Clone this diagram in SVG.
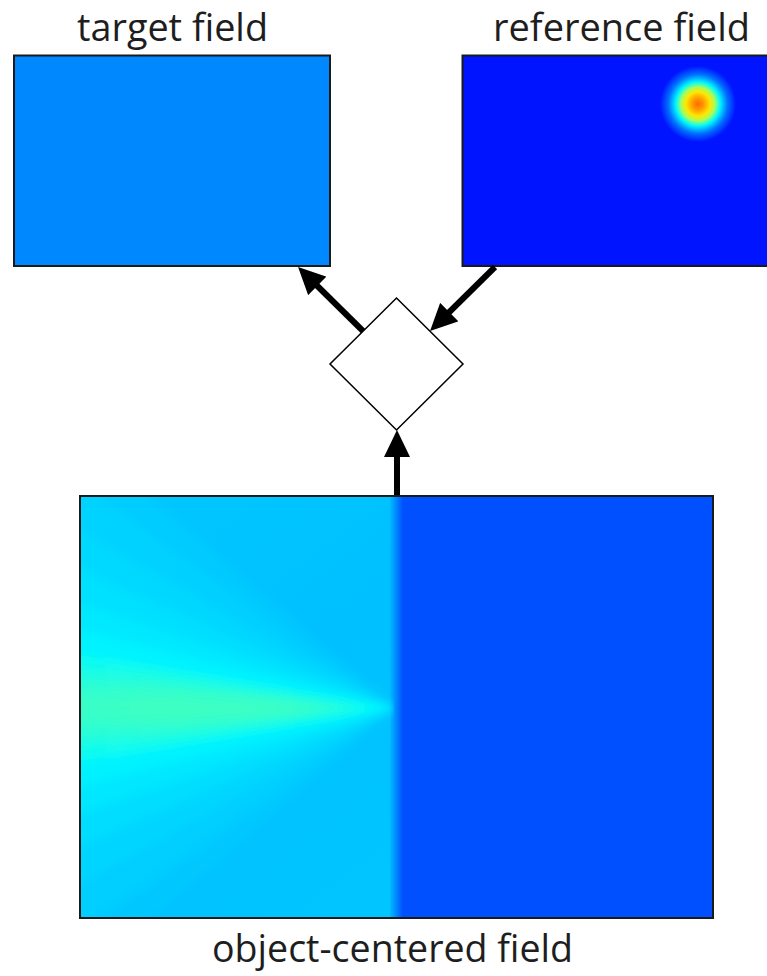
<svg xmlns="http://www.w3.org/2000/svg" width="767" height="976" viewBox="0 0 767 976">
  <style>
    .label { font-family: "Open Sans", "Liberation Sans", sans-serif; font-size: 39px; fill: #1e1e1e; text-anchor: middle; }
    .frame { stroke: #1a1a1a; stroke-width: 2; }
    .conn { stroke: #000; stroke-width: 6; fill: none; marker-end: url(#head); }
    .cy { fill: #00ffff; }
  </style>
  <defs>
    <marker id="head" markerUnits="userSpaceOnUse" viewBox="0 0 27 26" markerWidth="27" markerHeight="26" refX="7" refY="13" orient="auto">
      <path d="M0,0 L27,13 L0,26 z" fill="#000"/>
    </marker>
    <radialGradient id="blob" cx="698" cy="104" r="38" gradientUnits="userSpaceOnUse">
      <stop offset="0" stop-color="#ff6a00"/>
      <stop offset="0.15" stop-color="#ff9a00"/>
      <stop offset="0.32" stop-color="#ffe800"/>
      <stop offset="0.45" stop-color="#a0ff60"/>
      <stop offset="0.58" stop-color="#00f8ff"/>
      <stop offset="0.78" stop-color="#0070ff"/>
      <stop offset="1" stop-color="#0014ff"/>
    </radialGradient>
    <linearGradient id="split" gradientUnits="userSpaceOnUse" x1="389" y1="0" x2="403" y2="0">
      <stop offset="0" stop-color="#00c2ff"/>
      <stop offset="0.45" stop-color="#0090ff"/>
      <stop offset="1" stop-color="#0050ff"/>
    </linearGradient>
    <linearGradient id="shade" gradientUnits="userSpaceOnUse" x1="80" y1="496" x2="396" y2="918">
      <stop offset="0" stop-color="#00c8ff"/>
      <stop offset="0.5" stop-color="#00c0ff"/>
      <stop offset="1" stop-color="#00c6ff"/>
    </linearGradient>
    <linearGradient id="grn" gradientUnits="userSpaceOnUse" x1="80" y1="0" x2="396" y2="0">
      <stop offset="0" stop-color="#40ffc0" stop-opacity="0.7"/>
      <stop offset="0.3" stop-color="#40ffc0" stop-opacity="1"/>
      <stop offset="0.65" stop-color="#40ffc0" stop-opacity="0.85"/>
      <stop offset="0.95" stop-color="#40ffc0" stop-opacity="0"/>
    </linearGradient>
    <clipPath id="lefthalf">
      <rect x="80" y="496" width="314" height="422"/>
    </clipPath>
    <filter id="soft" x="-10%" y="-10%" width="120%" height="120%">
      <feGaussianBlur stdDeviation="5"/>
    </filter>
  </defs>

  <g id="target-field">
    <rect class="frame" x="14" y="55.5" width="316" height="210.5" fill="#0088ff"/>
    <text class="label" x="172.5" y="41" textLength="191" lengthAdjust="spacingAndGlyphs">target field</text>
  </g>

  <g id="reference-field">
    <rect class="frame" x="462.5" y="55.5" width="310" height="210.5" fill="#0014ff"/>
    <circle cx="698" cy="104" r="38" fill="url(#blob)"/>
    <text class="label" x="621.5" y="41" textLength="257" lengthAdjust="spacingAndGlyphs">reference field</text>
  </g>

  <g id="combiner">
    <polygon points="396.5,298 463,364 396.5,430 330,364" fill="#fff" stroke="#000" stroke-width="1.5"/>
  </g>

  <g id="object-centered-field">
    <rect x="80" y="496" width="633" height="422" fill="url(#split)"/>
    <rect x="80" y="496" width="310" height="422" fill="url(#shade)"/>
    <g clip-path="url(#lefthalf)" filter="url(#soft)">
      <polygon class="cy" points="396,708 60,420 60,996" opacity="0.1"/>
      <polygon class="cy" points="396,708 60,470 60,946" opacity="0.12"/>
      <polygon class="cy" points="396,708 60,520 60,896" opacity="0.15"/>
      <polygon class="cy" points="396,708 60,560 60,856" opacity="0.2"/>
      <polygon class="cy" points="396,708 60,595 60,821" opacity="0.3"/>
      <polygon class="cy" points="396,708 60,625 60,791" opacity="0.45"/>
      <polygon class="cy" points="396,708 60,650 60,766" opacity="0.6"/>
      <polygon points="396,708 60,652 60,764" fill="url(#grn)" opacity="0.35"/>
      <polygon points="396,708 60,668 60,748" fill="url(#grn)" opacity="0.5"/>
      <polygon points="396,708 60,682 60,734" fill="url(#grn)" opacity="0.65"/>
      <polygon points="396,708 60,695 60,721" fill="url(#grn)" opacity="0.7"/>
    </g>
    <rect class="frame" x="80" y="496" width="633" height="422" fill="none"/>
    <text class="label" x="392.5" y="962" textLength="361" lengthAdjust="spacingAndGlyphs">object-centered field</text>
  </g>

  <g id="connectors">
    <line class="conn" x1="397" y1="495" x2="397" y2="450"/>
    <line class="conn" x1="363" y1="331" x2="312.3" y2="281"/>
    <line class="conn" x1="495" y1="267" x2="444.3" y2="317"/>
  </g>
</svg>
